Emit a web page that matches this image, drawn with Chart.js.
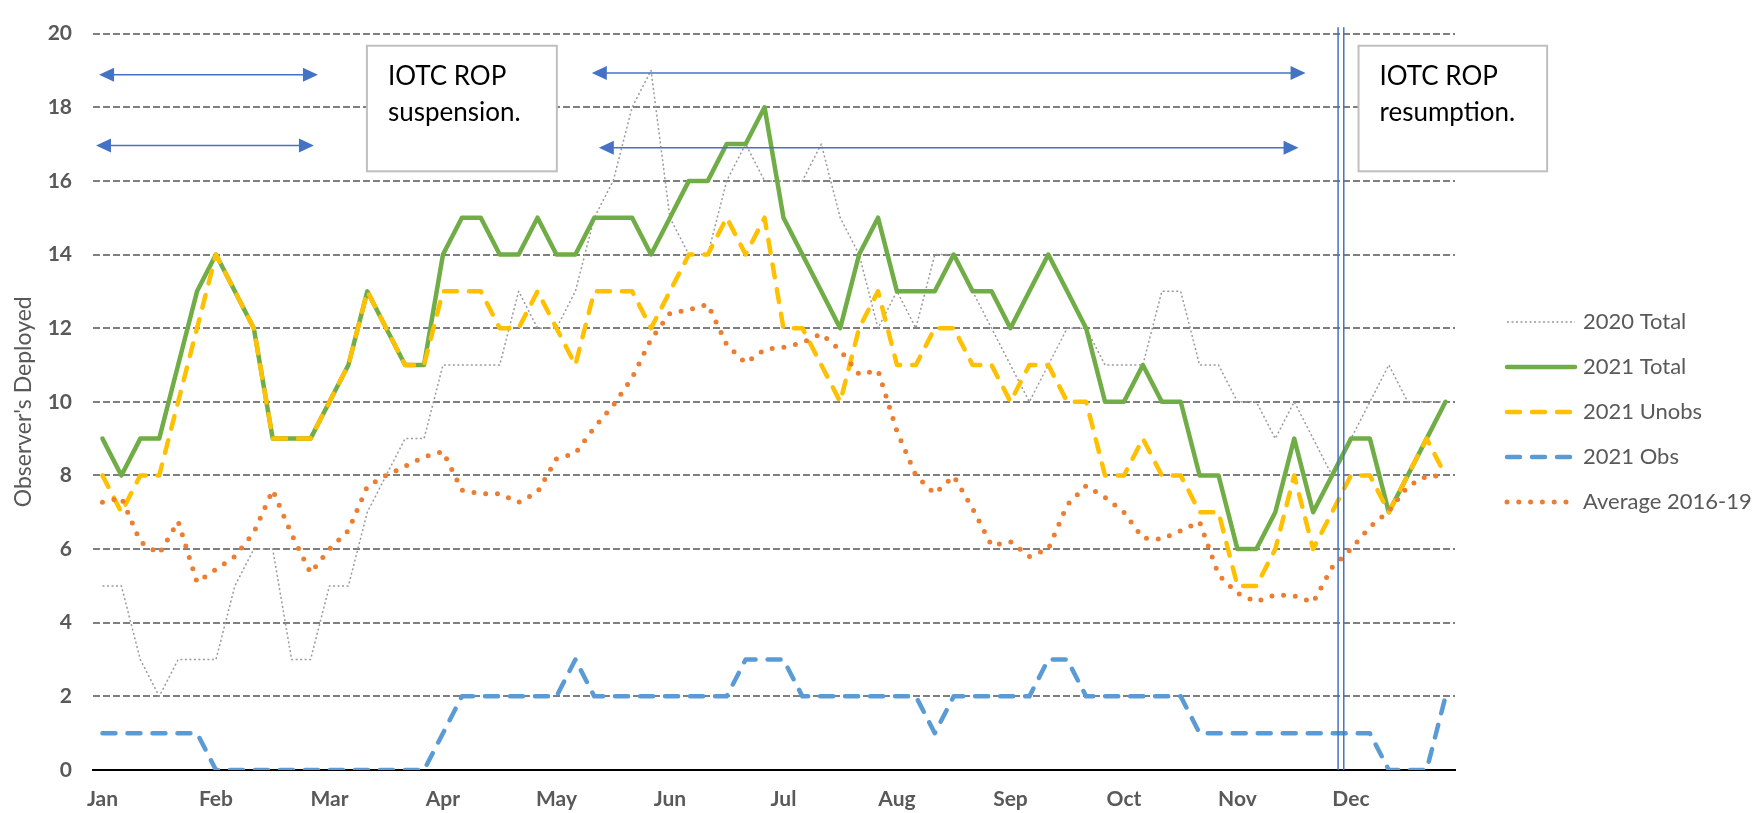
<!DOCTYPE html>
<html>
<head>
<meta charset="utf-8">
<title>Observer's Deployed</title>
<script src="https://cdn.jsdelivr.net/npm/chart.js@4.4.0/dist/chart.umd.min.js"></script>
<style>
  html, body { margin: 0; padding: 0; background: #fff; }
  #chart { display: block; }
</style>
</head>
<body>
<canvas id="chart" width="1753" height="813"></canvas>
<script>
/* week slots along the x axis */
const weeks = [0,1,2,3,4,5,6,7,8,9,10,11,12,13,14,15,16,17,18,19,20,21,22,23,24,25,26,27,28,29,30,31,32,33,34,35,
  36,37,38,39,40,41,42,43,44,45,46,47,48,49,50,51,52,53,54,55,56,57,58,59,60,61,62,63,64,65,66,67,68,69,70,71];

/* month tick labels and the week slot each one sits on */
const months = ["Jan","Feb","Mar","Apr","May","Jun","Jul","Aug","Sep","Oct","Nov","Dec"];
const monthPos = [0, 6, 12, 18, 24, 30, 36, 42, 48, 54, 60, 66];

/* y axis */
const yTicks = [0, 2, 4, 6, 8, 10, 12, 14, 16, 18, 20];

/* series */
const total2020 = [5,5,3,2,3,3,3,5,6,6, 3,3,5,5,7,8,9,9,11,11, 11,11,13,12,12,13,15,16,18,19,
  15,14,14,16,17,16,16,16,17,15, 14,12,13,12,14,14,13,12,11,10, 11,12,12,11,11,11,13,13,11,11,
  10,10,9,10,9,8,9,10,11,10, 10,10];
const total2021 = [9,8,9,9,11,13,14,13,12,9, 9,9,10,11,13,12,11,11,14,15, 15,14,14,15,14,14,15,15,15,14,
  15,16,16,17,17,18,15,14,13,12, 14,15,13,13,13,14,13,13,12,13, 14,13,12,10,10,11,10,10,8,8,
  6,6,7,9,7,8,9,9,7,8, 9,10];
const unobs2021 = [8,7,8,8,10,12,14,13,12,9, 9,9,10,11,13,12,11,11,13,13, 13,12,12,13,12,11,13,13,13,12,
  13,14,14,15,14,15,12,12,11,10, 12,13,11,11,12,12,11,11,10,11, 11,10,10,8,8,9,8,8,7,7,
  5,5,6,8,6,7,8,8,7,8, 9,8];
const obs2021 = [1,1,1,1,1,1,0,0,0,0, 0,0,0,0,0,0,0,0,1,2, 2,2,2,2,2,3,2,2,2,2,
  2,2,2,2,3,3,3,2,2,2, 2,2,2,2,1,2,2,2,2,2, 3,3,2,2,2,2,2,2,1,1,
  1,1,1,1,1,1,1,1,0,0, 0,2];
const avg1619 = [7.27,7.4,6.2,5.87,6.75,5.1,5.45,5.8,6.45,7.6, 6.4,5.35,6.0,6.5,7.7,8.0,8.25,8.5,8.65,7.6,
  7.5,7.5,7.27,7.55,8.45,8.6,9.3,9.9,10.65,11.7, 12.4,12.5,12.65,11.55,11.05,11.42,11.48,11.6,11.85,11.4,
  10.75,10.85,9.2,8.0,7.5,7.98,7.1,6.1,6.2,5.8, 6.0,7.2,7.72,7.4,7.0,6.3,6.27,6.5,6.74,5.3,
  4.8,4.57,4.76,4.73,4.55,5.5,6.0,6.6,7.03,7.7, 7.98,7.99];

const FONT = "Lato";
const GREY_TXT = "#595959";
const ARROW = "#4472c4";

/* annotations: arrows, text boxes, resumption marker, legend */
const overlay = {
  id: "overlay",
  afterDatasetsDraw(chart) {
    const { ctx, scales: { x, y } } = chart;
    ctx.save();

    // double vertical marker line
    ctx.strokeStyle = ARROW;
    ctx.lineWidth = 1.5;
    [65.32, 65.62].forEach(v => {
      const px = x.getPixelForValue(v);
      ctx.beginPath();
      ctx.moveTo(px, y.getPixelForValue(20.17));
      ctx.lineTo(px, y.getPixelForValue(0));
      ctx.stroke();
    });

    // double headed arrows
    const arrows = [
      { a: -0.18, b: 11.39, v: 18.88 },
      { a: -0.34, b: 11.18, v: 16.96 },
      { a: 25.87, b: 63.6, v: 18.93 },
      { a: 26.24, b: 63.23, v: 16.9 }
    ];
    arrows.forEach(ar => {
      const xa = x.getPixelForValue(ar.a), xb = x.getPixelForValue(ar.b), yy = y.getPixelForValue(ar.v);
      ctx.strokeStyle = ARROW;
      ctx.fillStyle = ARROW;
      ctx.lineWidth = 1.5;
      ctx.beginPath();
      ctx.moveTo(xa + 10, yy);
      ctx.lineTo(xb - 10, yy);
      ctx.stroke();
      [[xa, 1], [xb, -1]].forEach(([tip, dir]) => {
        ctx.beginPath();
        ctx.moveTo(tip, yy);
        ctx.lineTo(tip + dir * 15, yy - 7);
        ctx.lineTo(tip + dir * 15, yy + 7);
        ctx.closePath();
        ctx.fill();
      });
    });

    // text boxes
    const boxes = [
      { a: 13.98, b: 24.02, lines: ["IOTC ROP", "suspension."] },
      { a: 66.4, b: 76.37, lines: ["IOTC ROP", "resumption."] }
    ];
    boxes.forEach(bx => {
      const left = x.getPixelForValue(bx.a), right = x.getPixelForValue(bx.b);
      const top = y.getPixelForValue(19.67), bottom = y.getPixelForValue(16.26);
      ctx.fillStyle = "#fff";
      ctx.fillRect(left, top, right - left, bottom - top);
      ctx.strokeStyle = "#bfbfbf";
      ctx.lineWidth = 2;
      ctx.strokeRect(left, top, right - left, bottom - top);
      ctx.fillStyle = "#000";
      ctx.font = "26px " + FONT;
      ctx.textBaseline = "alphabetic";
      ctx.textAlign = "left";
      bx.lines.forEach((t, i) => ctx.fillText(t, left + 21, top + 39 + i * 36));
    });

    // legend
    const lx1 = 1507, lx2 = 1575, tx = 1583;
    chart.data.datasets.forEach((ds, i) => {
      const ly = 322 + i * 45;
      ctx.strokeStyle = ds.borderColor;
      ctx.lineWidth = ds.borderWidth;
      ctx.lineCap = ds.borderCapStyle || "butt";
      ctx.setLineDash(ds.borderDash || []);
      ctx.beginPath();
      ctx.moveTo(lx1, ly);
      ctx.lineTo(lx2, ly);
      ctx.stroke();
      ctx.setLineDash([]);
      ctx.fillStyle = GREY_TXT;
      ctx.font = "22px " + FONT;
      ctx.textBaseline = "middle";
      ctx.fillText(ds.label, tx, ly);
    });

    ctx.restore();
  }
};

Chart.defaults.font.family = FONT;

new Chart(document.getElementById("chart"), {
  type: "line",
  data: {
    labels: weeks,
    datasets: [
      { label: "2020 Total", data: total2020, borderColor: "#9a9a9a", borderWidth: 1.5,
        borderDash: [2, 2.5], order: 5 },
      { label: "2021 Total", data: total2021, borderColor: "#70ad47", borderWidth: 4.5,
        borderCapStyle: "round", order: 4 },
      { label: "2021 Unobs", data: unobs2021, borderColor: "#ffc000", borderWidth: 4.5,
        borderDash: [13, 12], borderCapStyle: "round", order: 3 },
      { label: "2021 Obs", data: obs2021, borderColor: "#5b9bd5", borderWidth: 4.5,
        borderDash: [13, 12], borderCapStyle: "round", order: 2 },
      { label: "Average 2016-19", data: avg1619, borderColor: "#ed7d31", borderWidth: 5,
        borderDash: [0, 11.8], borderCapStyle: "round", order: 1 }
    ]
  },
  options: {
    responsive: false,
    animation: false,
    layout: { padding: { top: 21, right: 298, left: 0, bottom: 0 } },
    elements: {
      point: { radius: 0 },
      line: { tension: 0, borderJoinStyle: "round", fill: false }
    },
    plugins: { legend: { display: false }, tooltip: { enabled: false } },
    scales: {
      x: {
        type: "linear",
        min: -0.5,
        max: 71.5,
        grid: { display: false, drawTicks: false },
        border: { display: true, color: "#000", width: 2 },
        afterBuildTicks: axis => { axis.ticks = monthPos.map(v => ({ value: v })); },
        afterFit: axis => { axis.height = 43; },
        ticks: {
          autoSkip: false,
          maxRotation: 0,
          padding: 17,
          color: GREY_TXT,
          font: { size: 21, weight: "bold" },
          callback: (v, i) => months[i]
        }
      },
      y: {
        min: 0,
        max: 20,
        afterBuildTicks: axis => { axis.ticks = yTicks.map(v => ({ value: v })); },
        afterFit: axis => { axis.width = 93; },
        grid: {
          drawTicks: false,
          lineWidth: 2,
          color: c => (c.tick && c.tick.value === 0 ? "rgba(0,0,0,0)" : "#7f7f7f")
        },
        border: { display: false, dash: [7, 3] },
        title: {
          display: true,
          text: "Observer's Deployed",
          color: GREY_TXT,
          font: { size: 23, weight: "normal" },
          padding: { top: 10, bottom: 0 }
        },
        ticks: {
          padding: 21,
          color: GREY_TXT,
          font: { size: 21, weight: "bold" }
        }
      }
    }
  },
  plugins: [overlay]
});
</script>
</body>
</html>
